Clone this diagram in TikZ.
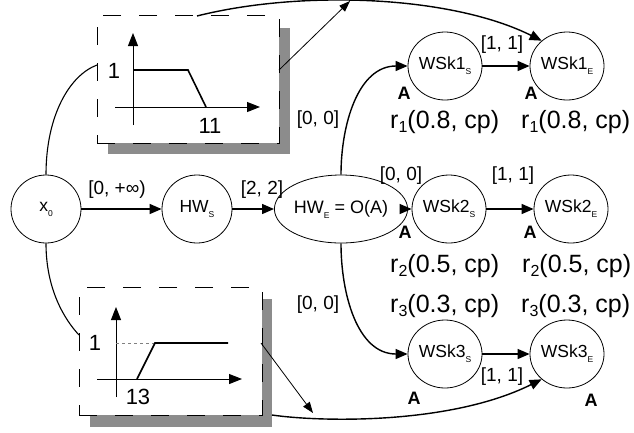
\documentclass[tikz,border=0pt]{standalone}
\usepackage{fontspec}
\setmainfont{Liberation Sans}
\usetikzlibrary{arrows.meta,shapes.geometric}
\definecolor{shadowgray}{RGB}{140,140,140}
\newcommand{\nsub}[1]{\raisebox{-5pt}{\fontsize{8.5}{8.5}\selectfont #1}}
\newcommand{\rsub}[1]{\raisebox{-4pt}{\fontsize{16}{16}\selectfont #1}}
\begin{document}
\begin{tikzpicture}[x=1pt,y=-1pt,
 state/.style={ellipse, draw, line width=0.8pt, minimum width=70pt, minimum height=68pt, inner sep=0pt, font=\fontsize{17.5}{17.5}\selectfont},
 conn/.style={-{Triangle[length=12pt,width=10pt]}, line width=1.4pt},
 thinarrow/.style={-{Triangle[length=11pt,width=8pt]}, line width=0.8pt},
 axis/.style={-{Triangle[length=13pt,width=10pt]}, line width=1pt},
 plotline/.style={line width=1.6pt},
 lab/.style={font=\fontsize{19}{19}\selectfont, inner sep=0pt},
 rlab/.style={font=\fontsize{25}{25}\selectfont, inner sep=0pt, anchor=base west},
 alab/.style={font=\bfseries\fontsize{18}{18}\selectfont, inner sep=0pt},
 numlab/.style={font=\fontsize{22}{22}\selectfont, inner sep=0pt},
 plotbox/.style={draw, dash pattern=on 18pt off 18pt, line width=0.8pt, fill=white, inner sep=0pt},
]
\useasboundingbox (0,0) rectangle (634,432);

% boxes with shadows
\fill[shadowgray] (108,28) rectangle (290,154);
\node[plotbox, minimum width=182pt, minimum height=128pt] (tb) at (188,79) {};
\fill[shadowgray] (90,299) rectangle (272,427);
\node[plotbox, minimum width=183pt, minimum height=128pt] (bb) at (170.5,351) {};

% top plot
\coordinate (ta0) at (133,125); \coordinate (ta1) at (133,33);
\coordinate (tx0) at (115,107); \coordinate (tx1) at (260,107);
\draw[axis] (ta0) -- (ta1);
\draw[axis] (tx0) -- (tx1);
\coordinate (tp0) at (133,70); \coordinate (tp1) at (188,70); \coordinate (tp2) at (206,107);
\draw[plotline] (tp0) -- (tp1) -- (tp2);
\node[numlab] (t1) at (114,71) {1};
\node[numlab] (t11) at (210,126) {11};

% bottom plot
\coordinate (ba0) at (116,397); \coordinate (ba1) at (116,307);
\coordinate (bx0) at (97,379); \coordinate (bx1) at (242,379);
\draw[axis] (ba0) -- (ba1);
\draw[axis] (bx0) -- (bx1);
\coordinate (bp0) at (137,379); \coordinate (bp1) at (155,343); \coordinate (bp2) at (228,343);
\draw[gray, line width=0.8pt, dashed] (116,343) -- (bp1);
\draw[plotline] (bp0) -- (bp1) -- (bp2);
\node[numlab] (b1) at (95,343) {1};
\node[numlab] (b13) at (138,397) {13};

% states
\node[state] (x0) at (46,209) {x\nsub{0}};
\node[state] (hws) at (197,209) {HW\nsub{S}};
\node[state, minimum width=100pt, font=\fontsize{18}{18}\selectfont] (hwe) at (341,209) {HW\nsub{E} = O(A)};
\node[state] (w1s) at (445,66) {WSk1\nsub{S}};
\node[state] (w1e) at (567,66) {WSk1\nsub{E}};
\node[state] (w2s) at (449,209) {WSk2\nsub{S}};
\node[state] (w2e) at (571,209) {WSk2\nsub{E}};
\node[state] (w3s) at (445,354) {WSk3\nsub{S}};
\node[state] (w3e) at (567,354) {WSk3\nsub{E}};

% connectors
\draw[conn] (x0) -- (hws);
\draw[conn] (hws) -- (hwe);
\draw[conn] (hwe) -- (w2s);
\draw[conn] (w1s) -- (w1e);
\draw[conn] (w2s) -- (w2e);
\draw[conn] (w3s) -- (w3e);
\draw[conn] (hwe.north) to[out=90,in=180] (w1s.west);
\draw[conn] (hwe.south) to[out=-90,in=180] (w3s.west);

\coordinate (tbl) at (97,65);
\coordinate (tbt) at (197,16);
\coordinate (tbr) at (279,70);
\coordinate (tip1) at (350,1);
\coordinate (bbl) at (79,335);
\coordinate (bbr) at (261,343);
\coordinate (bbs) at (272,415);
\coordinate (tip2) at (313,413);

\draw[line width=1.1pt] (x0.north) .. controls (46,115) and (70,75) .. (tbl);
\draw[line width=1.1pt] (x0.south) .. controls (46,290) and (65,320) .. (bbl);
\draw[conn] (tbt) .. controls (300,-10) and (450,-5) .. (w1e.135);
\draw[conn] (bbs) .. controls (320,422) and (450,425) .. (w3e.225);
\draw[thinarrow] (tbr) -- (tip1);
\draw[thinarrow] (bbr) -- (tip2);

% edge labels
\node[lab] (l1) at (117,190) {[0, +∞)};
\node[lab] (l2) at (262,190) {[2, 2]};
\node[lab] (l3) at (318,120) {[0, 0]};
\node[lab] (l4) at (401,176) {[0, 0]};
\node[lab] (l5) at (318,305) {[0, 0]};
\node[lab] (l6) at (502,45) {[1, 1]};
\node[lab] (l7) at (513,176) {[1, 1]};
\node[lab] (l8) at (502,377) {[1, 1]};

% A labels
\node[alab] (a1) at (404,93) {A};
\node[alab] (a2) at (531,93) {A};
\node[alab] (a3) at (405,232) {A};
\node[alab] (a4) at (530,232) {A};
\node[alab] (a5) at (414,398) {A};
\node[alab] (a6) at (591,400) {A};

% r labels
\node[rlab] (r1a) at (390,128) {r\rsub{1}(0.8, cp)};
\node[rlab] (r1b) at (521,128) {r\rsub{1}(0.8, cp)};
\node[rlab] (r2a) at (390,272) {r\rsub{2}(0.5, cp)};
\node[rlab] (r2b) at (522,272) {r\rsub{2}(0.5, cp)};
\node[rlab] (r3a) at (390,312) {r\rsub{3}(0.3, cp)};
\node[rlab] (r3b) at (521,312) {r\rsub{3}(0.3, cp)};
\end{tikzpicture}
\end{document}
